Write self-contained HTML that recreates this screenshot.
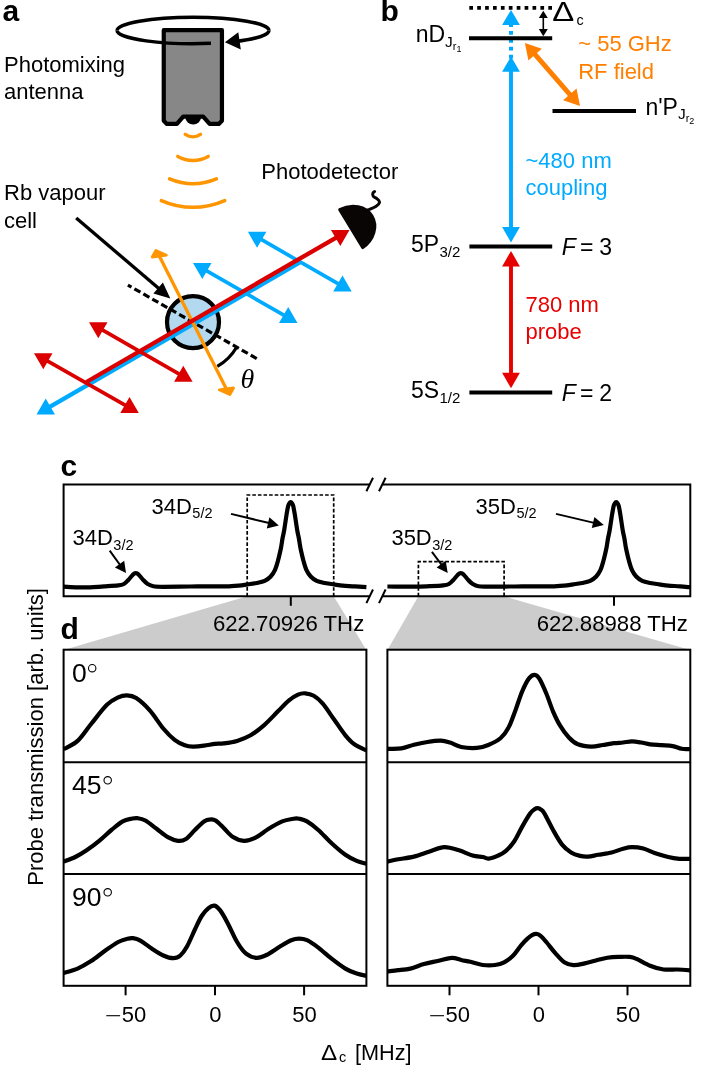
<!DOCTYPE html>
<html><head><meta charset="utf-8"><title>Figure</title>
<style>
html,body{margin:0;padding:0;background:#fff;}
body{width:709px;height:1068px;overflow:hidden;font-family:"Liberation Sans",sans-serif;}
svg{display:block;will-change:transform;}
svg text{font-family:"Liberation Sans",sans-serif;} svg .sf{font-family:"Liberation Serif",serif;}
</style></head><body>
<svg width="709" height="1068" viewBox="0 0 709 1068">
<rect width="709" height="1068" fill="#fff"/>
<text x="2.6" y="21" font-size="30" font-weight="bold">a</text>
<text x="4" y="71.8" font-size="22">Photomixing</text>
<text x="4" y="99.3" font-size="22">antenna</text>
<text x="4" y="200" font-size="22">Rb vapour</text>
<text x="4" y="227.5" font-size="22">cell</text>
<text x="261.3" y="179.3" font-size="22">Photodetector</text>
<path d="M268.9 30.5 A75.9 13.2 0 0 0 117.1 30.5" fill="none" stroke="#000" stroke-width="3.5"/>
<path d="M163.75 30.15 L221.95 30.15 L221.95 120.8 L218.8 123.95 L209.6 123.95 L203.2 116.6 L183.2 116.6 L176.9 123.95 L166.9 123.95 L163.75 120.8 Z" fill="#878787" stroke="#000" stroke-width="4.2" stroke-linejoin="round"/>
<path d="M185.3 116.5 A7.9 8 0 0 0 201.1 116.5 Z" fill="#000"/>
<path d="M117.1 30.5 A75.9 13.2 0 0 0 211.0 43.3" fill="none" stroke="#000" stroke-width="3.5"/>
<path d="M236.0 41.4 A75.9 13.2 0 0 0 268.9 30.5" fill="none" stroke="#000" stroke-width="3.5"/>
<polygon points="224.9,42.3 238.3,32.3 240.8,49.5" fill="#000"/>
<path d="M185.3 134.4 A13.7 13.7 0 0 0 200.5 134.4" fill="none" stroke="#FF9500" stroke-width="3.5" stroke-linecap="round"/>
<path d="M177.8 156.4 A30.9 30.9 0 0 0 208.2 156.4" fill="none" stroke="#FF9500" stroke-width="3.5" stroke-linecap="round"/>
<path d="M169.6 178.9 A60.6 60.6 0 0 0 216.4 178.9" fill="none" stroke="#FF9500" stroke-width="3.5" stroke-linecap="round"/>
<path d="M161.3 200.6 A78.3 78.3 0 0 0 224.7 200.6" fill="none" stroke="#FF9500" stroke-width="3.5" stroke-linecap="round"/>
<line x1="76.2" y1="217.9" x2="160.6" y2="290.1" stroke="#000" stroke-width="3.3"/><polygon points="170.3,298.4 153.4,293.5 162.9,282.5" fill="#000"/>
<circle cx="193" cy="322.1" r="26" fill="#B3D9F0" stroke="#000" stroke-width="4.2"/>
<line x1="127.9" y1="285.1" x2="258.4" y2="359.5" stroke="#000" stroke-width="3.2" stroke-dasharray="6.9 3.4" stroke-dashoffset="2.8"/>
<path d="M236.3 347.8 A50.5 50.5 0 0 1 217.3 366.4" fill="none" stroke="#000" stroke-width="3.2"/>
<text x="240.5" y="387.5" font-size="28" class="sf" font-style="italic">θ</text>
<line x1="259.0" y1="238.2" x2="340.6" y2="285.2" stroke="#00AAFF" stroke-width="3.7" /><polygon points="247.9,231.8 266.4,231.8 257.1,247.8" fill="#00AAFF"/><polygon points="351.7,291.6 333.2,291.6 342.5,275.6" fill="#00AAFF"/>
<line x1="204.1" y1="269.4" x2="286.4" y2="316.6" stroke="#00AAFF" stroke-width="3.7" /><polygon points="193.0,263.0 211.5,262.9 202.3,279.0" fill="#00AAFF"/><polygon points="297.5,323.0 279.0,323.1 288.2,307.0" fill="#00AAFF"/>
<line x1="299.8" y1="262.5" x2="47.6" y2="408.2" stroke="#00AAFF" stroke-width="4.3"/><polygon points="36.5,414.6 45.7,398.6 55.0,414.6" fill="#00AAFF"/>
<line x1="159.3" y1="256" x2="226.4" y2="389" stroke="#FF9500" stroke-width="3.3"/>
<polygon points="155.9,250.4 152.2,257 166.4,255.2" fill="#FF9500" stroke="#FF9500" stroke-width="2.8" stroke-linejoin="round"/>
<polygon points="229.8,394.6 233.5,388 219.3,389.8" fill="#FF9500" stroke="#FF9500" stroke-width="2.8" stroke-linejoin="round"/>
<line x1="100.1" y1="328.7" x2="181.5" y2="375.3" stroke="#DA0000" stroke-width="3.7" /><polygon points="89.0,322.3 107.5,322.2 98.3,338.3" fill="#DA0000"/><polygon points="192.6,381.7 174.1,381.8 183.3,365.7" fill="#DA0000"/>
<line x1="45.1" y1="359.6" x2="127.7" y2="406.7" stroke="#DA0000" stroke-width="3.7" /><polygon points="34.0,353.3 52.5,353.2 43.3,369.3" fill="#DA0000"/><polygon points="138.8,413.0 120.3,413.1 129.5,397.0" fill="#DA0000"/>
<line x1="86.4" y1="382.0" x2="338.4" y2="236.3" stroke="#DA0000" stroke-width="4.3"/><polygon points="349.5,229.9 340.3,245.9 331.0,229.9" fill="#DA0000"/>
<path d="M339.7 209.6 A22.3 26.3 58.7 0 1 362.8 247.6 Z" fill="#0a0505" stroke="#0a0505" stroke-width="3" stroke-linejoin="round"/>
<path d="M367.5 210.2 C368.9 209.6 373.8 207.8 375.8 206.5 C377.8 205.2 379.4 203.5 379.6 202.2 C379.8 200.9 378.2 199.9 377.1 198.9 C376.1 197.9 374.0 197.3 373.3 196.4 C372.6 195.5 372.6 194.1 372.8 193.3 C373.0 192.5 374.3 191.8 374.6 191.5" fill="none" stroke="#0a0505" stroke-width="3" stroke-linecap="round"/>
<text x="380.6" y="21" font-size="30" font-weight="bold">b</text>
<line x1="511" y1="70" x2="511" y2="229" stroke="#00AAFF" stroke-width="3.9"/>
<polygon points="511.0,56.5 519.9,71.7 502.1,71.7" fill="#00AAFF"/>
<polygon points="511.0,242.5 502.1,226.9 519.9,226.9" fill="#00AAFF"/>
<line x1="511" y1="23.1" x2="511" y2="58.7" stroke="#00AAFF" stroke-width="4" stroke-dasharray="3.8 4.1"/>
<polygon points="511.0,9.9 519.9,25.1 502.1,25.1" fill="#00AAFF"/>
<line x1="469.3" y1="7.9" x2="552.2" y2="7.9" stroke="#000" stroke-width="3.7" stroke-dasharray="3.7 4.2"/>
<line x1="469" y1="38.3" x2="552.2" y2="38.3" stroke="#000" stroke-width="4"/>
<line x1="552.5" y1="111.1" x2="636" y2="111.1" stroke="#000" stroke-width="4"/>
<line x1="469.4" y1="246.6" x2="552.2" y2="246.6" stroke="#000" stroke-width="4"/>
<line x1="469.4" y1="392.4" x2="552.2" y2="392.4" stroke="#000" stroke-width="4"/>
<line x1="511.0" y1="263.4" x2="511.0" y2="375.8" stroke="#E60000" stroke-width="3.9" /><polygon points="511.0,250.9 519.9,266.5 502.1,266.5" fill="#E60000"/><polygon points="511.0,388.3 502.1,372.7 519.9,372.7" fill="#E60000"/>
<line x1="543.3" y1="16.5" x2="543.3" y2="30.4" stroke="#000" stroke-width="1.6" /><polygon points="543.3,10.7 547.8,18.0 538.8,18.0" fill="#000"/><polygon points="543.3,36.2 538.8,28.9 547.8,28.9" fill="#000"/>
<line x1="533.0" y1="52.2" x2="571.9" y2="96.8" stroke="#FF7F00" stroke-width="4.8" /><polygon points="524.9,42.9 541.8,48.8 528.4,60.4" fill="#FF7F00"/><polygon points="580.0,106.1 563.1,100.2 576.5,88.6" fill="#FF7F00"/>
<text x="415.7" y="42.1" font-size="23">nD<tspan font-size="15.5" dy="4.8">J</tspan><tspan font-size="11" dy="3.1">r</tspan><tspan font-size="9" dy="2">1</tspan></text>
<text x="645.4" y="114.5" font-size="23">n'P<tspan font-size="15.5" dy="4.8">J</tspan><tspan font-size="11" dy="3.1">r</tspan><tspan font-size="9" dy="2">2</tspan></text>
<text x="552.2" y="21.4" font-size="28.2" textLength="22" lengthAdjust="spacingAndGlyphs">Δ</text>
<text x="576.5" y="24.6" font-size="14.3">c</text>
<text x="578.2" y="51" font-size="22" fill="#FF7F00">~ 55 GHz</text>
<text x="578.2" y="78.9" font-size="22" fill="#FF7F00">RF field</text>
<text x="525.5" y="167.6" font-size="22" fill="#00AAFF">~480 nm</text>
<text x="525.5" y="194.8" font-size="22" fill="#00AAFF">coupling</text>
<text x="525.5" y="311.8" font-size="22" fill="#E60000">780 nm</text>
<text x="525.5" y="338.9" font-size="22" fill="#E60000">probe</text>
<text x="411" y="252.4" font-size="23">5P<tspan font-size="15" dy="4.3" dx="0.3">3/2</tspan></text>
<text x="411" y="398.2" font-size="23">5S<tspan font-size="15" dy="4.3" dx="0.3">1/2</tspan></text>
<text y="255.1" font-size="23"><tspan x="561.7" font-style="italic">F</tspan><tspan x="580">=</tspan><tspan x="599.3">3</tspan></text>
<text y="400.9" font-size="23"><tspan x="561.7" font-style="italic">F</tspan><tspan x="580">=</tspan><tspan x="599.3">2</tspan></text>
<text x="60.5" y="475.8" font-size="30" font-weight="bold">c</text>
<text x="60.6" y="639.2" font-size="30" font-weight="bold">d</text>
<polygon points="247.2,596.3 333.7,596.3 366.4,650 63.6,650" fill="#cccccc"/>
<polygon points="418.4,596.3 504.1,596.3 690.3,650 387.4,650" fill="#cccccc"/>
<path d="M369.7 484.5 L63.6 484.5 L63.6 596.3 L369.7 596.3" fill="none" stroke="#000" stroke-width="2"/>
<path d="M382.3 484.5 L690.3 484.5 L690.3 596.3 L382.3 596.3" fill="none" stroke="#000" stroke-width="2"/>
<line x1="366.4" y1="491.3" x2="373.0" y2="477.7" stroke="#000" stroke-width="2"/>
<line x1="366.4" y1="603.1" x2="373.0" y2="589.5" stroke="#000" stroke-width="2"/>
<line x1="379.0" y1="491.3" x2="385.6" y2="477.7" stroke="#000" stroke-width="2"/>
<line x1="379.0" y1="603.1" x2="385.6" y2="589.5" stroke="#000" stroke-width="2"/>
<line x1="290.8" y1="596.3" x2="290.8" y2="605.8" stroke="#000" stroke-width="2"/>
<line x1="614" y1="596.3" x2="614" y2="605.8" stroke="#000" stroke-width="2"/>
<text x="288.6" y="631.2" font-size="22.2" text-anchor="middle">622.70926 THz</text>
<text x="612.3" y="631.2" font-size="22.2" text-anchor="middle">622.88988 THz</text>
<path d="M247.2 596.3 L247.2 495 L333.7 495 L333.7 596.3" fill="none" stroke="#000" stroke-width="1.7" stroke-dasharray="3.6 2"/>
<path d="M418.4 596.3 L418.4 561.7 L504.1 561.7 L504.1 596.3" fill="none" stroke="#000" stroke-width="1.7" stroke-dasharray="3.6 2"/>
<path d="M63.6 586.6 C65.9 586.7 73.2 587.2 77.6 587.3 C82.0 587.4 85.6 587.5 90.0 587.4 C94.4 587.2 99.4 586.7 104.1 586.4 C108.8 586.1 114.9 585.8 118.2 585.4 C121.5 585.0 122.2 584.9 123.9 584.0 C125.6 583.1 126.7 581.7 128.1 580.2 C129.5 578.8 131.3 576.4 132.3 575.3 C133.3 574.2 133.7 574.0 134.3 573.6 C134.9 573.2 135.3 573.1 135.8 573.1 C136.3 573.1 136.7 573.2 137.3 573.6 C137.9 574.0 138.3 574.2 139.3 575.3 C140.3 576.4 142.1 578.8 143.5 580.2 C144.9 581.7 146.1 583.0 147.7 584.0 C149.4 585.0 150.8 585.8 153.4 586.3 C156.0 586.8 157.2 586.8 163.3 586.8 C169.4 586.8 181.4 586.6 190.0 586.5 C198.6 586.4 208.9 586.3 215.0 586.3 C221.1 586.3 222.8 586.5 226.7 586.4 C230.6 586.3 235.2 585.9 238.7 585.6 C242.2 585.3 244.7 584.8 247.7 584.4 C250.7 584.0 253.9 583.6 256.7 583.0 C259.5 582.4 262.4 581.9 264.7 580.8 C267.0 579.7 269.0 578.3 270.7 576.5 C272.4 574.7 273.7 572.8 274.9 570.2 C276.1 567.6 276.9 564.6 277.9 561.0 C278.9 557.4 280.0 552.5 280.8 548.8 C281.6 545.0 281.9 541.6 282.5 538.5 C283.1 535.4 283.6 533.9 284.2 530.2 C284.8 526.5 285.7 520.2 286.3 516.2 C286.9 512.2 287.6 508.5 288.1 506.3 C288.6 504.1 289.0 503.9 289.4 503.2 C289.8 502.5 290.3 502.1 290.7 502.1 C291.1 502.1 291.6 502.5 292.0 503.2 C292.4 503.9 292.8 504.1 293.3 506.3 C293.8 508.5 294.4 512.2 295.1 516.2 C295.7 520.2 296.6 526.5 297.2 530.2 C297.8 533.9 298.3 535.4 298.9 538.5 C299.5 541.6 299.8 545.0 300.6 548.8 C301.4 552.5 302.5 557.4 303.5 561.0 C304.5 564.6 305.3 567.6 306.5 570.2 C307.7 572.8 309.0 574.7 310.7 576.5 C312.4 578.3 314.4 579.7 316.7 580.8 C319.0 581.9 321.9 582.4 324.7 583.0 C327.5 583.6 330.7 584.0 333.7 584.4 C336.7 584.8 339.2 585.3 342.7 585.6 C346.2 585.9 350.8 586.1 354.7 586.4 C358.6 586.7 364.4 587.1 366.4 587.2" fill="none" stroke="#000" stroke-width="4.2" stroke-linejoin="round"/>
<path d="M387.4 586.5 C391.8 586.5 406.8 586.8 413.9 586.7 C421.0 586.7 425.1 586.4 430.0 586.2 C434.9 586.0 440.0 585.8 443.2 585.4 C446.4 585.0 447.2 584.9 448.9 584.0 C450.6 583.1 451.7 581.7 453.1 580.2 C454.5 578.8 456.3 576.4 457.3 575.3 C458.3 574.2 458.7 574.0 459.3 573.6 C459.9 573.2 460.3 573.1 460.8 573.1 C461.3 573.1 461.7 573.2 462.3 573.6 C462.9 574.0 463.3 574.2 464.3 575.3 C465.3 576.4 467.1 578.8 468.5 580.2 C469.9 581.7 471.0 583.0 472.7 584.0 C474.4 585.0 475.9 585.9 478.4 586.3 C481.0 586.7 481.9 586.6 488.0 586.6 C494.1 586.6 506.3 586.5 515.0 586.5 C523.7 586.5 533.8 586.3 540.0 586.3 C546.2 586.3 548.2 586.5 552.2 586.4 C556.2 586.3 560.7 585.9 564.2 585.6 C567.7 585.3 570.2 584.8 573.2 584.4 C576.2 584.0 579.4 583.6 582.2 583.0 C585.0 582.4 587.9 581.9 590.2 580.8 C592.5 579.7 594.5 578.3 596.2 576.5 C597.9 574.7 599.2 572.8 600.4 570.2 C601.6 567.6 602.4 564.6 603.4 561.0 C604.4 557.4 605.5 552.5 606.3 548.8 C607.1 545.0 607.4 541.6 608.0 538.5 C608.6 535.4 609.1 533.9 609.7 530.2 C610.3 526.5 611.2 520.2 611.8 516.2 C612.5 512.2 613.1 508.5 613.6 506.3 C614.1 504.1 614.5 503.9 614.9 503.2 C615.3 502.5 615.8 502.1 616.2 502.1 C616.6 502.1 617.1 502.5 617.5 503.2 C617.9 503.9 618.3 504.1 618.8 506.3 C619.3 508.5 620.0 512.2 620.6 516.2 C621.2 520.2 622.1 526.5 622.7 530.2 C623.3 533.9 623.8 535.4 624.4 538.5 C625.0 541.6 625.3 545.0 626.1 548.8 C626.9 552.5 628.0 557.4 629.0 561.0 C630.0 564.6 630.8 567.6 632.0 570.2 C633.2 572.8 634.5 574.7 636.2 576.5 C637.9 578.3 639.9 579.7 642.2 580.8 C644.5 581.9 647.4 582.4 650.2 583.0 C653.0 583.6 656.2 584.0 659.2 584.4 C662.2 584.8 664.7 585.3 668.2 585.6 C671.7 585.9 676.5 586.1 680.2 586.4 C683.9 586.7 688.6 587.1 690.3 587.2" fill="none" stroke="#000" stroke-width="4.2" stroke-linejoin="round"/>
<text x="72.5" y="545.4" font-size="22">34D<tspan font-size="14.5" dy="4.5" dx="0.5">3/2</tspan></text>
<text x="151.5" y="513.9" font-size="22">34D<tspan font-size="14.5" dy="4.5" dx="0.5">5/2</tspan></text>
<text x="391.4" y="545.4" font-size="22">35D<tspan font-size="14.5" dy="4.5" dx="0.5">3/2</tspan></text>
<text x="475.6" y="513.9" font-size="22">35D<tspan font-size="14.5" dy="4.5" dx="0.5">5/2</tspan></text>
<line x1="109.7" y1="550.6" x2="120.8" y2="566.0" stroke="#000" stroke-width="2"/><polygon points="126.0,573.1 114.9,567.5 124.2,560.8" fill="#000"/>
<line x1="231.0" y1="513.9" x2="270.2" y2="523.3" stroke="#000" stroke-width="2"/><polygon points="278.8,525.4 266.8,528.4 269.4,517.3" fill="#000"/>
<line x1="431.9" y1="551.8" x2="442.4" y2="565.9" stroke="#000" stroke-width="2"/><polygon points="447.7,573.0 436.6,567.6 445.7,560.8" fill="#000"/>
<line x1="556.0" y1="513.9" x2="595.2" y2="523.1" stroke="#000" stroke-width="2"/><polygon points="603.8,525.1 591.8,528.1 594.4,517.0" fill="#000"/>
<rect x="63.6" y="649.7" width="302.8" height="336.1" fill="#fff" stroke="#000" stroke-width="2"/>
<line x1="63.6" y1="762.2" x2="366.4" y2="762.2" stroke="#000" stroke-width="2"/>
<line x1="63.6" y1="874.0" x2="366.4" y2="874.0" stroke="#000" stroke-width="2"/>
<rect x="387.4" y="649.7" width="302.9" height="336.1" fill="#fff" stroke="#000" stroke-width="2"/>
<line x1="387.4" y1="762.2" x2="690.3" y2="762.2" stroke="#000" stroke-width="2"/>
<line x1="387.4" y1="874.0" x2="690.3" y2="874.0" stroke="#000" stroke-width="2"/>
<line x1="125.6" y1="985.8" x2="125.6" y2="995.3" stroke="#000" stroke-width="2"/>
<line x1="106.3" y1="1015.7" x2="120.1" y2="1015.7" stroke="#000" stroke-width="1.1"/>
<text x="121.7" y="1022.2" font-size="22">50</text>
<line x1="215.0" y1="985.8" x2="215.0" y2="995.3" stroke="#000" stroke-width="2"/>
<text x="215.4" y="1022.2" font-size="22" text-anchor="middle">0</text>
<line x1="304.1" y1="985.8" x2="304.1" y2="995.3" stroke="#000" stroke-width="2"/>
<text x="304.5" y="1022.2" font-size="22" text-anchor="middle">50</text>
<line x1="449.5" y1="985.8" x2="449.5" y2="995.3" stroke="#000" stroke-width="2"/>
<line x1="430.2" y1="1015.7" x2="444.0" y2="1015.7" stroke="#000" stroke-width="1.1"/>
<text x="445.6" y="1022.2" font-size="22">50</text>
<line x1="538.5" y1="985.8" x2="538.5" y2="995.3" stroke="#000" stroke-width="2"/>
<text x="538.9" y="1022.2" font-size="22" text-anchor="middle">0</text>
<line x1="627.5" y1="985.8" x2="627.5" y2="995.3" stroke="#000" stroke-width="2"/>
<text x="627.9" y="1022.2" font-size="22" text-anchor="middle">50</text>
<text x="321" y="1059.8" font-size="22" textLength="16.2" lengthAdjust="spacingAndGlyphs">Δ</text>
<text x="339" y="1062.4" font-size="14.5">c</text>
<text x="354.9" y="1059.8" font-size="21.7">[MHz]</text>
<text transform="translate(43.3,885.8) rotate(-90)" font-size="22.05">Probe transmission [arb. units]</text>
<text x="72" y="682.2" font-size="26.5">0</text>
<circle cx="92.2" cy="668.2" r="3.7" fill="none" stroke="#000" stroke-width="1.1"/>
<text x="72" y="794.3" font-size="26.5">45</text>
<circle cx="107.7" cy="780.3" r="3.7" fill="none" stroke="#000" stroke-width="1.1"/>
<text x="72" y="906.3" font-size="26.5">90</text>
<circle cx="107.7" cy="892.3" r="3.7" fill="none" stroke="#000" stroke-width="1.1"/>
<path d="M63.6 749.3 C65.9 747.9 73.0 745.1 77.6 740.9 C82.2 736.7 86.2 730.0 91.1 724.0 C96.0 718.0 102.4 709.2 106.9 704.8 C111.4 700.4 114.9 699.0 118.2 697.4 C121.5 695.8 123.8 695.2 126.8 695.3 C129.8 695.4 132.4 695.5 136.2 698.0 C140.0 700.5 145.3 705.3 149.8 710.4 C154.3 715.5 159.2 723.6 163.3 728.5 C167.4 733.4 171.0 737.0 174.6 739.8 C178.2 742.6 181.8 744.1 184.8 745.2 C187.8 746.3 189.5 746.5 192.7 746.6 C195.9 746.7 200.3 746.2 204.0 745.7 C207.7 745.2 211.8 744.2 215.0 743.8 C218.2 743.4 219.8 743.9 223.5 743.4 C227.2 742.9 232.6 742.2 237.1 740.9 C241.6 739.5 246.1 737.9 250.6 735.3 C255.1 732.7 259.7 729.0 264.2 725.1 C268.7 721.2 273.6 715.7 277.7 711.6 C281.8 707.5 285.6 703.1 289.0 700.3 C292.4 697.5 295.3 695.8 298.0 694.6 C300.7 693.4 302.6 693.1 305.2 693.3 C307.8 693.5 310.9 694.1 313.8 695.8 C316.7 697.5 319.4 699.8 322.8 703.7 C326.2 707.7 330.3 714.2 334.1 719.5 C337.9 724.8 342.0 731.2 345.4 735.3 C348.8 739.4 350.9 741.8 354.4 744.3 C357.9 746.8 364.4 749.5 366.4 750.6" fill="none" stroke="#000" stroke-width="4.2" stroke-linejoin="round"/>
<path d="M63.6 861.6 C65.5 860.8 71.5 858.9 75.3 857.0 C79.1 855.1 82.5 853.1 86.6 850.3 C90.7 847.5 96.0 843.5 100.1 840.1 C104.2 836.7 107.6 833.1 111.4 830.0 C115.2 826.9 119.3 823.3 122.7 821.4 C126.1 819.5 129.2 819.2 131.7 818.7 C134.1 818.2 135.1 817.9 137.4 818.2 C139.7 818.5 142.1 818.7 145.3 820.5 C148.5 822.3 152.8 826.0 156.6 828.8 C160.3 831.6 164.2 835.2 167.8 837.2 C171.4 839.2 175.0 840.5 178.0 840.8 C181.0 841.1 183.1 840.8 185.9 839.0 C188.7 837.2 191.9 832.9 194.9 830.0 C197.9 827.1 201.4 823.2 204.0 821.4 C206.6 819.6 208.8 819.5 210.7 819.4 C212.6 819.2 213.5 819.1 215.6 820.5 C217.7 821.9 220.7 825.0 223.5 827.7 C226.3 830.4 229.2 834.5 232.6 836.7 C236.0 838.9 240.2 840.6 243.9 840.8 C247.7 841.0 251.0 839.9 255.1 837.9 C259.2 835.9 264.2 831.5 268.7 828.8 C273.2 826.0 278.1 823.1 282.2 821.4 C286.3 819.7 290.7 819.2 293.5 818.7 C296.3 818.2 296.9 818.2 299.1 818.7 C301.4 819.2 303.8 819.5 307.0 821.4 C310.2 823.3 314.2 826.3 318.3 830.0 C322.4 833.7 327.4 839.4 331.9 843.5 C336.4 847.6 341.3 851.9 345.4 854.8 C349.5 857.7 353.2 859.4 356.7 860.9 C360.2 862.4 364.8 863.3 366.4 863.8" fill="none" stroke="#000" stroke-width="4.2" stroke-linejoin="round"/>
<path d="M63.6 972.9 C65.9 972.2 73.0 970.6 77.6 968.6 C82.2 966.6 86.6 964.0 91.1 961.1 C95.6 958.2 100.2 954.2 104.7 951.0 C109.2 947.8 114.5 944.0 118.2 942.0 C122.0 940.0 124.8 939.4 127.2 938.8 C129.7 938.1 130.6 937.8 132.9 938.1 C135.2 938.4 137.6 939.0 140.8 940.8 C144.0 942.6 148.2 946.2 152.0 948.7 C155.8 951.2 159.7 953.9 163.3 955.5 C166.9 957.1 170.7 958.2 173.5 958.2 C176.3 958.2 178.1 957.5 180.3 955.5 C182.6 953.5 184.6 950.8 187.0 946.5 C189.4 942.2 192.5 934.6 194.9 929.5 C197.3 924.4 199.4 919.6 201.7 916.0 C204.0 912.4 206.4 909.8 208.5 908.1 C210.6 906.4 212.6 905.2 214.5 905.6 C216.4 906.0 217.9 907.4 220.2 910.4 C222.5 913.4 225.3 918.6 228.1 923.9 C230.9 929.2 234.1 937.0 237.1 942.0 C240.1 947.0 242.9 951.1 246.1 953.7 C249.3 956.3 252.9 957.6 256.3 957.8 C259.7 958.0 262.4 956.9 266.4 955.0 C270.3 953.1 275.9 949.0 280.0 946.5 C284.1 944.0 288.0 941.5 291.2 940.2 C294.4 938.9 296.5 938.6 299.1 938.6 C301.7 938.6 303.8 938.7 307.0 940.2 C310.2 941.7 314.2 944.5 318.3 947.6 C322.4 950.7 327.4 955.4 331.9 958.9 C336.4 962.4 341.3 966.1 345.4 968.6 C349.5 971.1 353.2 972.4 356.7 973.6 C360.2 974.8 364.8 975.4 366.4 975.8" fill="none" stroke="#000" stroke-width="4.2" stroke-linejoin="round"/>
<path d="M387.4 748.8 C389.7 748.7 397.0 749.1 401.4 748.4 C405.8 747.7 409.6 745.9 413.9 744.8 C418.2 743.7 422.9 742.7 427.4 742.0 C431.9 741.3 437.1 740.6 440.9 740.7 C444.7 740.8 446.6 741.5 450.0 742.5 C453.4 743.5 456.7 746.1 461.2 747.0 C465.7 747.9 472.5 748.2 477.0 747.9 C481.5 747.6 484.4 746.6 488.3 745.0 C492.2 743.4 497.3 740.9 500.7 738.0 C504.1 735.1 506.2 732.0 508.6 727.4 C511.1 722.8 513.1 716.4 515.4 710.4 C517.7 704.4 519.9 696.6 522.2 691.3 C524.5 686.0 526.9 681.1 529.0 678.4 C531.1 675.6 533.0 674.7 534.8 674.8 C536.5 674.9 537.6 675.8 539.5 678.9 C541.4 682.0 544.0 688.0 546.3 693.5 C548.6 699.0 550.9 706.3 553.1 711.6 C555.4 716.9 557.2 720.8 559.8 725.1 C562.4 729.4 565.9 734.3 568.9 737.5 C571.9 740.7 574.1 742.8 577.9 744.3 C581.6 745.8 587.3 746.5 591.4 746.6 C595.5 746.7 598.9 745.6 602.7 745.0 C606.5 744.4 610.6 743.6 614.0 743.2 C617.4 742.8 620.0 742.8 623.0 742.5 C626.0 742.2 629.0 741.4 632.0 741.4 C635.0 741.4 638.1 742.0 641.1 742.5 C644.1 743.0 646.7 743.8 650.1 744.3 C653.5 744.8 657.6 744.9 661.4 745.2 C665.2 745.5 669.3 745.5 672.7 746.1 C676.1 746.7 678.8 748.3 681.7 748.8 C684.6 749.3 688.9 749.0 690.3 749.0" fill="none" stroke="#000" stroke-width="4.2" stroke-linejoin="round"/>
<path d="M387.4 861.6 C389.2 861.2 393.7 860.1 398.1 859.3 C402.5 858.5 408.6 857.9 413.9 856.6 C419.2 855.3 424.6 853.0 429.7 851.4 C434.8 849.8 439.4 847.3 444.3 847.1 C449.2 846.9 454.3 848.9 459.0 850.3 C463.7 851.7 468.6 854.4 472.5 855.5 C476.4 856.6 479.9 856.5 482.7 857.0 C485.4 857.5 486.6 858.8 489.0 858.6 C491.4 858.4 494.7 857.1 497.4 855.9 C500.1 854.7 502.5 853.8 505.3 851.4 C508.1 849.0 511.5 845.3 514.3 841.2 C517.1 837.1 519.6 831.2 522.2 826.6 C524.8 822.0 528.1 816.4 530.1 813.5 C532.1 810.6 533.2 810.2 534.5 809.3 C535.8 808.4 536.6 808.2 537.7 808.2 C538.8 808.2 539.9 808.7 541.0 809.6 C542.1 810.5 542.5 810.2 544.5 813.6 C546.5 817.0 550.2 824.8 553.1 830.0 C556.0 835.2 559.1 840.9 562.1 844.6 C565.1 848.4 568.1 850.6 571.1 852.5 C574.1 854.4 577.3 855.2 580.1 855.9 C582.9 856.6 585.0 856.8 588.0 856.6 C591.0 856.4 594.2 855.5 598.2 854.8 C602.2 854.1 607.6 853.5 611.7 852.5 C615.8 851.5 619.6 849.6 623.0 848.7 C626.4 847.8 628.6 847.1 632.0 847.1 C635.4 847.1 639.5 847.5 643.3 848.5 C647.1 849.5 650.5 851.6 654.6 853.0 C658.8 854.4 664.1 856.0 668.2 857.0 C672.3 858.0 675.7 858.5 679.4 858.8 C683.1 859.1 688.5 858.8 690.3 858.8" fill="none" stroke="#000" stroke-width="4.2" stroke-linejoin="round"/>
<path d="M387.4 971.3 C389.2 971.1 394.2 970.7 398.1 970.2 C402.0 969.8 406.2 969.6 410.5 968.6 C414.8 967.6 419.3 965.4 424.0 964.1 C428.7 962.8 434.1 961.8 438.7 960.7 C443.3 959.7 448.1 957.9 451.8 957.8 C455.6 957.7 458.1 959.3 461.2 960.0 C464.3 960.7 466.7 961.0 470.3 961.8 C473.9 962.6 478.6 964.5 482.7 965.0 C486.8 965.5 491.5 965.5 495.1 965.0 C498.7 964.5 501.1 963.9 504.1 962.3 C507.1 960.7 510.4 958.3 513.2 955.5 C516.0 952.7 518.7 948.1 521.1 945.3 C523.5 942.5 525.6 940.3 527.5 938.6 C529.4 936.9 531.0 935.7 532.5 934.9 C534.0 934.1 535.0 933.8 536.3 933.9 C537.6 934.0 538.6 934.2 540.3 935.6 C542.0 937.0 543.8 939.1 546.3 942.0 C548.8 944.9 552.3 949.8 555.3 953.2 C558.3 956.6 561.3 960.3 564.3 962.3 C567.3 964.3 570.0 965.0 573.4 965.2 C576.8 965.4 581.0 964.2 584.7 963.4 C588.5 962.6 592.1 961.4 595.9 960.5 C599.6 959.6 603.4 958.4 607.2 957.8 C611.0 957.2 614.7 957.0 618.5 956.9 C622.3 956.8 626.8 956.6 629.8 956.9 C632.8 957.2 633.2 957.4 636.6 958.9 C640.0 960.4 645.6 963.9 650.1 965.7 C654.6 967.5 659.1 968.9 663.6 969.5 C668.1 970.1 672.8 969.4 677.2 969.5 C681.7 969.6 688.1 970.2 690.3 970.4" fill="none" stroke="#000" stroke-width="4.2" stroke-linejoin="round"/>
</svg>
</body></html>
